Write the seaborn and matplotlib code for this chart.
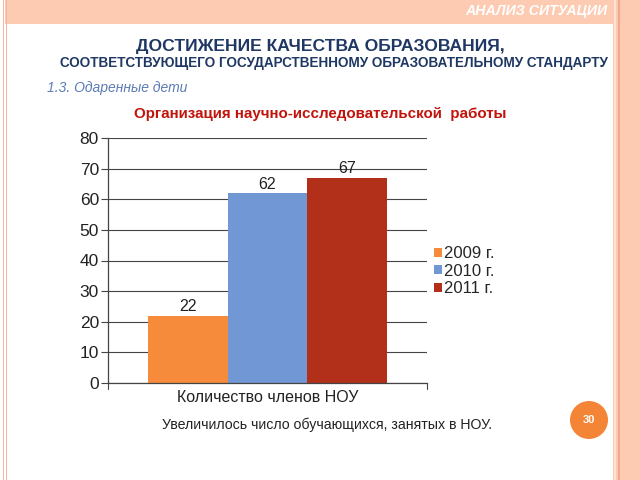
import matplotlib
matplotlib.use("Agg")
import matplotlib.pyplot as plt
import matplotlib.transforms as mtransforms
import seaborn as sns
import pandas as pd
from matplotlib.patches import Rectangle, Circle

categories = ["Количество членов НОУ"]
years = ["2009 г.", "2010 г.", "2011 г."]
values = [22, 62, 67]
colors = ["#F58B3B", "#7198D5", "#B22F1A"]
yticks = [0, 10, 20, 30, 40, 50, 60, 70, 80]

df = pd.DataFrame({"cat": categories * len(years), "year": years, "val": values})

sns.set_theme(style="white")
plt.rcParams['font.family'] = ['Liberation Sans', 'DejaVu Sans']

W, H = 640, 480
fig = plt.figure(figsize=(6.4, 4.8), dpi=100)
fig.patch.set_facecolor("white")

def px(x0, y0, w, h, **kw):
    fig.patches.append(Rectangle((x0 / W, 1 - (y0 + h) / H), w / W, h / H,
                                 transform=fig.transFigure, zorder=-10, **kw))

# decorative frame
px(5, 0, 608, 24, color="#FCCBB1", lw=0)
px(613, 0, 27, 480, color="#FCCBB1", lw=0)
px(614, 0, 2, 480, color="#FDE3D6", lw=0)
px(618, 0, 1.5, 480, color="#F2A88E", lw=0)
px(3, 0, 1.3, 480, color="#F4B4A2", lw=0)
px(6, 0, 1.3, 480, color="#F4B4A2", lw=0)
px(8, 24, 605, 456, color="white", lw=0)

fig.text(607 / W, 1 - 11 / H, "АНАЛИЗ СИТУАЦИИ", color="white", fontsize=10.2,
         fontweight="bold", fontstyle="italic", ha="right", va="center")

fig.text(320 / W, 1 - 46 / H, "ДОСТИЖЕНИЕ КАЧЕСТВА ОБРАЗОВАНИЯ,", color="#1F3763",
         fontsize=12.6, fontweight="bold", ha="center", va="center")
fig.text(334 / W, 1 - 63 / H, "СООТВЕТСТВУЮЩЕГО ГОСУДАРСТВЕННОМУ ОБРАЗОВАТЕЛЬНОМУ СТАНДАРТУ",
         color="#1F3763", fontsize=9.75, fontweight="bold", ha="center", va="center")
fig.text(47 / W, 1 - 88 / H, "1.3. Одаренные дети", color="#5B7BB5",
         fontsize=10, fontstyle="italic", ha="left", va="center")
fig.text(320 / W, 1 - 114 / H, "Организация научно-исследовательской  работы",
         color="#C0140C", fontsize=10.9, fontweight="bold", ha="center", va="center")

ax = fig.add_axes([108 / W, 1 - 383 / H, (427 - 108) / W, (383 - 138) / H])
sns.barplot(data=df, x="cat", y="val", hue="year", palette=colors, width=0.75,
            saturation=1, ax=ax, legend=True, edgecolor="none")
ax.set_xlim(-0.5, 0.5)
ax.set_ylim(0, 80)
ax.set_yticks(yticks)
ax.set_yticklabels([str(t) for t in yticks], fontsize=12.5, color="#222222")
ax.set_xticks([])
ax.set_xlabel("Количество членов НОУ", fontsize=11.5, color="#222222", labelpad=5)
ax.set_ylabel("")
ax.set_facecolor("white")
ax.yaxis.grid(True, color="#444444", lw=0.8)
ax.set_axisbelow(True)
for s in ["top", "right"]:
    ax.spines[s].set_visible(False)
for s in ["left", "bottom"]:
    ax.spines[s].set_color("#444444")
    ax.spines[s].set_linewidth(0.9)
ax.tick_params(axis="y", length=5, width=0.8, color="#444444", pad=1.5, left=True)
ax.plot([0, 0], [0, -0.025], transform=ax.transAxes, color="#444444", lw=0.8, clip_on=False)
ax.plot([1, 1], [0, -0.025], transform=ax.transAxes, color="#444444", lw=0.8, clip_on=False)

for cont in ax.containers:
    ax.bar_label(cont, fontsize=11.5, color="#222222", padding=1)

handles, labels = ax.get_legend_handles_labels()
ax.legend(handles, labels, loc="upper left", bbox_to_anchor=(434 / W, 1 - 246 / H),
          bbox_transform=fig.transFigure, frameon=False, fontsize=12,
          handlelength=0.45, handleheight=0.45, handletextpad=0.15, labelspacing=0.15,
          borderpad=0, borderaxespad=0)

fig.text(327 / W, 1 - 425 / H, "Увеличилось число обучающихся, занятых в НОУ.",
         color="#222222", fontsize=10.2, ha="center", va="center")

circ = Circle((589, H - 420), 19, transform=mtransforms.IdentityTransform(),
              color="#F58536", lw=0, zorder=1)
fig.patches.append(circ)
fig.text(589 / W, 1 - 420 / H, "30", color="white", fontsize=8, fontweight="bold",
         ha="center", va="center", zorder=2)

fig.savefig("out.png", dpi=100)
